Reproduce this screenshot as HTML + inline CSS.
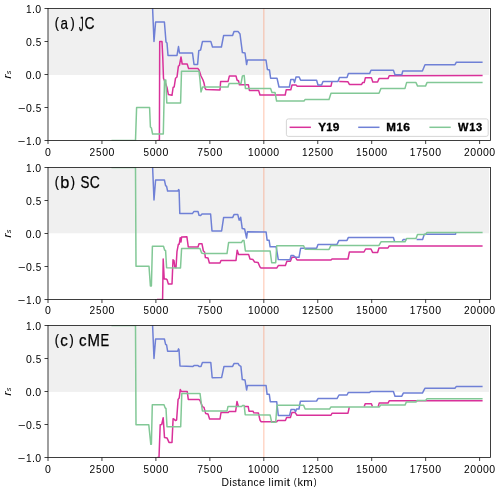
<!DOCTYPE html><html><head><meta charset="utf-8"><style>html,body{margin:0;padding:0;background:#fff;}svg{display:block;will-change:transform;}text{font-family:"Liberation Sans",sans-serif;fill:#000;}</style></head><body>
<svg width="500" height="493" viewBox="0 0 500 493">
<rect width="500" height="493" fill="#fff"/>
<defs><clipPath id="c0"><rect x="48" y="8.5" width="442.5" height="132"/></clipPath></defs>
<rect x="48" y="8.5" width="441" height="66.5" fill="#f0f0f0"/>
<line x1="263.8" y1="8.5" x2="263.8" y2="140.5" stroke="#ff7f50" stroke-opacity="0.32" stroke-width="1.5"/>
<g clip-path="url(#c0)" fill="none" stroke-width="1.5" stroke-linejoin="round" stroke-linecap="butt">
<path d="M157.2 140.5L159.4 140.5L159.7 41.6L162 41.6L162.8 58.4L163.5 78.3L165 82L167 87.5L168.4 94.6L172 95.3L173.1 87.5L174.2 86.8L175.5 78.3L177 77L178.4 66.2L179.4 65.5L181 57L182.2 64L187.2 64L188.6 68.6L198 68.6L199 70L201 76L203 80L204 83L205 88L206 89.6L220 90L220.6 81.6L228 81.6L229.4 75.9L236 75.9L237 80L238.6 81L239.4 84.8L248.4 84.8L249.4 90.4L258.6 90.4L260 95L285.2 95L286.2 89.8L290.8 89.8L292 85L296 85L297.2 86.2L331 86.2L332 81.6M339.2 81.6L348 81.8L349.4 84.4L361.6 84.4L362.6 82.6L364.2 82.6L365.4 77.8L371.4 77.8L372.8 82L377.6 82L379 78.6L388 78.6L389.2 75.7L482.6 75.6" stroke="#d9319a"/>
<path d="M152.5 6L152.6 8.4L154 41.5L155.6 22L164.4 22L166 42L167 43L168 55.4L177 55.4L178.5 46.5L179.5 53L192.5 53L194 64.4L197.6 64.4L198.8 50.6L200.6 50L202.5 41.4L210.8 41.4L212.5 47L221.4 47L223.6 35.6L232.6 35.6L234 31.4L238 31.4L240 34L242.4 52.6L245 53L246.6 64.6L247.4 60L266 60L267.4 69.5L269.5 70L270.6 78.2L277 78.2L279 87L289.4 87L290.8 79.4L293.6 79.4L294.6 82.4L296 77L299.2 77L300.6 80.2L316.6 80.2L318 85L321.6 85L323 81.4L338 81.4L339.6 77.4L347 77.4L348.4 73.6L369.6 73.6L371 70.2L393.4 70.2L395 74.8L401.8 74.8L402.8 71L422.4 71L425 64.7L455 64.7L456.4 62.2L482.6 62.2" stroke="#6f80d6"/>
<path d="M111.5 140.5L135.5 140.5L136.6 107.6L149.6 107.6L150.4 127L151.4 128L152.6 134L163.3 134L164.5 80L165.8 80L166.8 103L180.6 103L181.5 71.3L199 71.3L200 80L201 92L202.6 87L228 87L229 83.6L241 83.6L242.4 76L244.2 75.6L245.4 88.4L270.6 88.4L272 92.4L275 92.4L276.6 101L304 101L305 99.6L329 99.6L331 93.3L379 93.3L381 88.4L405 88.4L406.6 82.6L416 82.6L417.6 86.1L425.5 86.1L427 82.6L482.6 82.6" stroke="#82c896"/>
</g>
<rect x="48" y="8.5" width="442.5" height="132" fill="none" stroke="#101010" stroke-width="0.8"/>
<path d="M48 140.5v3.5 M101.95 140.5v3.5 M155.9 140.5v3.5 M209.85 140.5v3.5 M263.8 140.5v3.5 M317.75 140.5v3.5 M371.7 140.5v3.5 M425.65 140.5v3.5 M479.6 140.5v3.5 M48 8.5h-3.5 M48 41.5h-3.5 M48 74.5h-3.5 M48 107.5h-3.5 M48 140.5h-3.5" stroke="#101010" stroke-width="0.8" fill="none"/>
<g font-size="10.6"><text x="45.07" y="155.8" textLength="5.86" lengthAdjust="spacingAndGlyphs">0</text></g>
<g font-size="10.6"><text x="89.41" y="155.8" textLength="5.65" lengthAdjust="spacingAndGlyphs">2</text><text x="95.93" y="155.8" textLength="5.53" lengthAdjust="spacingAndGlyphs">5</text><text x="102.16" y="155.8" textLength="5.86" lengthAdjust="spacingAndGlyphs">0</text><text x="108.53" y="155.8" textLength="5.86" lengthAdjust="spacingAndGlyphs">0</text></g>
<g font-size="10.6"><text x="143.49" y="155.8" textLength="5.53" lengthAdjust="spacingAndGlyphs">5</text><text x="149.73" y="155.8" textLength="5.86" lengthAdjust="spacingAndGlyphs">0</text><text x="156.09" y="155.8" textLength="5.86" lengthAdjust="spacingAndGlyphs">0</text><text x="162.46" y="155.8" textLength="5.86" lengthAdjust="spacingAndGlyphs">0</text></g>
<g font-size="10.6"><text x="197.34" y="155.8" textLength="5.73" lengthAdjust="spacingAndGlyphs">7</text><text x="203.78" y="155.8" textLength="5.53" lengthAdjust="spacingAndGlyphs">5</text><text x="210.02" y="155.8" textLength="5.86" lengthAdjust="spacingAndGlyphs">0</text><text x="216.38" y="155.8" textLength="5.86" lengthAdjust="spacingAndGlyphs">0</text></g>
<g font-size="10.6"><text x="248.01" y="155.8" textLength="5.6" lengthAdjust="spacingAndGlyphs">1</text><text x="254.29" y="155.8" textLength="5.86" lengthAdjust="spacingAndGlyphs">0</text><text x="260.65" y="155.8" textLength="5.86" lengthAdjust="spacingAndGlyphs">0</text><text x="267.01" y="155.8" textLength="5.86" lengthAdjust="spacingAndGlyphs">0</text><text x="273.37" y="155.8" textLength="5.86" lengthAdjust="spacingAndGlyphs">0</text></g>
<g font-size="10.6"><text x="301.96" y="155.8" textLength="5.6" lengthAdjust="spacingAndGlyphs">1</text><text x="308.21" y="155.8" textLength="5.65" lengthAdjust="spacingAndGlyphs">2</text><text x="314.72" y="155.8" textLength="5.53" lengthAdjust="spacingAndGlyphs">5</text><text x="320.96" y="155.8" textLength="5.86" lengthAdjust="spacingAndGlyphs">0</text><text x="327.32" y="155.8" textLength="5.86" lengthAdjust="spacingAndGlyphs">0</text></g>
<g font-size="10.6"><text x="355.91" y="155.8" textLength="5.6" lengthAdjust="spacingAndGlyphs">1</text><text x="362.31" y="155.8" textLength="5.53" lengthAdjust="spacingAndGlyphs">5</text><text x="368.55" y="155.8" textLength="5.86" lengthAdjust="spacingAndGlyphs">0</text><text x="374.91" y="155.8" textLength="5.86" lengthAdjust="spacingAndGlyphs">0</text><text x="381.27" y="155.8" textLength="5.86" lengthAdjust="spacingAndGlyphs">0</text></g>
<g font-size="10.6"><text x="409.86" y="155.8" textLength="5.6" lengthAdjust="spacingAndGlyphs">1</text><text x="416.18" y="155.8" textLength="5.73" lengthAdjust="spacingAndGlyphs">7</text><text x="422.62" y="155.8" textLength="5.53" lengthAdjust="spacingAndGlyphs">5</text><text x="428.86" y="155.8" textLength="5.86" lengthAdjust="spacingAndGlyphs">0</text><text x="435.22" y="155.8" textLength="5.86" lengthAdjust="spacingAndGlyphs">0</text></g>
<g font-size="10.6"><text x="463.88" y="155.8" textLength="5.65" lengthAdjust="spacingAndGlyphs">2</text><text x="470.27" y="155.8" textLength="5.86" lengthAdjust="spacingAndGlyphs">0</text><text x="476.63" y="155.8" textLength="5.86" lengthAdjust="spacingAndGlyphs">0</text><text x="482.99" y="155.8" textLength="5.86" lengthAdjust="spacingAndGlyphs">0</text><text x="489.36" y="155.8" textLength="5.86" lengthAdjust="spacingAndGlyphs">0</text></g>
<g font-size="10.6"><text x="25.89" y="12.75" textLength="5.6" lengthAdjust="spacingAndGlyphs">1</text><text x="32" y="12.75" textLength="3.01" lengthAdjust="spacingAndGlyphs">.</text><text x="35.35" y="12.75" textLength="5.86" lengthAdjust="spacingAndGlyphs">0</text></g>
<g font-size="10.6"><text x="26.02" y="45.75" textLength="5.86" lengthAdjust="spacingAndGlyphs">0</text><text x="32.21" y="45.75" textLength="3.01" lengthAdjust="spacingAndGlyphs">.</text><text x="35.68" y="45.75" textLength="5.53" lengthAdjust="spacingAndGlyphs">5</text></g>
<g font-size="10.6"><text x="25.81" y="78.75" textLength="5.86" lengthAdjust="spacingAndGlyphs">0</text><text x="32" y="78.75" textLength="3.01" lengthAdjust="spacingAndGlyphs">.</text><text x="35.35" y="78.75" textLength="5.86" lengthAdjust="spacingAndGlyphs">0</text></g>
<g font-size="10.6"><text x="17.82" y="111.75" textLength="7.52" lengthAdjust="spacingAndGlyphs">−</text><text x="26.02" y="111.75" textLength="5.86" lengthAdjust="spacingAndGlyphs">0</text><text x="32.21" y="111.75" textLength="3.01" lengthAdjust="spacingAndGlyphs">.</text><text x="35.68" y="111.75" textLength="5.53" lengthAdjust="spacingAndGlyphs">5</text></g>
<g font-size="10.6"><text x="17.61" y="144.75" textLength="7.52" lengthAdjust="spacingAndGlyphs">−</text><text x="25.89" y="144.75" textLength="5.6" lengthAdjust="spacingAndGlyphs">1</text><text x="32" y="144.75" textLength="3.01" lengthAdjust="spacingAndGlyphs">.</text><text x="35.35" y="144.75" textLength="5.86" lengthAdjust="spacingAndGlyphs">0</text></g>
<g font-size="15.9" stroke="#000" stroke-width="0.25"><text x="54.71" y="0" transform="translate(0,27.61) scale(1,0.902)" textLength="4.22" lengthAdjust="spacingAndGlyphs">(</text><text x="60.39" y="28.6" textLength="7.5" lengthAdjust="spacingAndGlyphs">a</text><text x="70.38" y="0" transform="translate(0,27.61) scale(1,0.902)" textLength="4.22" lengthAdjust="spacingAndGlyphs">)</text><text x="78.96" y="0" transform="translate(0,31.41) scale(1,1.256)" textLength="4.54" lengthAdjust="spacingAndGlyphs">J</text><text x="84.43" y="28.6" textLength="10.06" lengthAdjust="spacingAndGlyphs">C</text></g>
<g transform="translate(10.9,78.7) rotate(-90)" font-style="italic"><text x="0" y="0" font-size="10.6" textLength="4.4" lengthAdjust="spacingAndGlyphs">r</text><text x="4.5" y="0.3" font-size="7.2">s</text></g>
<defs><clipPath id="c1"><rect x="48" y="167.5" width="442.5" height="132"/></clipPath></defs>
<rect x="48" y="167.5" width="441" height="65.8" fill="#f0f0f0"/>
<line x1="263.8" y1="167.5" x2="263.8" y2="299.5" stroke="#ff7f50" stroke-opacity="0.32" stroke-width="1.5"/>
<g clip-path="url(#c1)" fill="none" stroke-width="1.5" stroke-linejoin="round" stroke-linecap="butt">
<path d="M157 299.5L162.6 299.5L163.2 259.1L164.2 279L166 279L167 279.6L168.4 284L172 284L173 259.8L174 260.5L174.8 267L176 267.6L177 251.3L178.4 244.2L179.2 244.2L180.2 237.8L181 242L181.6 237.1L186.9 236.8L188.3 247L198 247L199 243.8L202 243.8L203.4 251L204.6 252L205.4 257.6L208 258L209.4 263L220 263L221 260.4L236 260.4L237.2 250.2L238.6 254.4L248.6 254.4L250 259L253 259.6L254.6 262L258 262.4L260 267L261 268.1L276.7 268.1L278.3 265.6L285.4 265.6L286.9 261.3L290.4 261.3L292 257.3L295.5 257.3L297 260L331 260L332 259L348 259L349.4 252L364 252L365.6 249L371 249L372.6 252.4L377.6 252.4L379 248L388 248L389.2 245.9L482.6 245.9" stroke="#d9319a"/>
<path d="M152.5 165L152.6 167L154 200L155.6 180L164.4 180L165.6 185.6L166.6 186.4L167.6 191.1L178 191.1L178.6 189.6L179.1 190.2L179.8 213.6L192.4 213.6L194 211.4L198 211.4L199 215.2L200.6 215.6L202 214L210.6 214L212 231L221.6 231L223.6 217.6L232.6 217.6L234 214.6L237.8 214.6L239.1 220L239.9 220L240.7 217.3L242.2 228.4L244.6 229L246.6 238L247.4 231.8L266.1 231.9L267.1 240.2L269.1 240.2L270.1 246.8L276.2 246.8L278.3 259.6L290 259.7L291 255.6L293.5 255.6L295.5 257.3L299 257.3L300.6 248.3L316.6 248.3L318 244.4L337 244.4L339 240.4L347 240.4L348.4 237.4L393.4 237.6L394.6 241.4M402.2 241L403.4 239.4L406.8 239.4M416.6 239.4L422.6 239.4L424.3 234.3L455.3 234.3L456.1 233.2" stroke="#6f80d6"/>
<path d="M111.5 167.5L135.5 167.5L136 266.2L149 266.2L150.4 286L151.4 286L152.4 246.3L163.5 246.3L164.6 250L165.6 250.6L166.6 267.8L180.5 268L181.6 248.5L200 248.5L201.6 253L203.4 253.6L227 253.6L228.6 242.6L241.4 242.6L242.6 240.6L244 240.6L245.4 251L270.1 250.9L271.7 262.7L275.7 262.7L276.7 245.8L303.6 245.8L305.1 249.3L329 249.4L331 245.4L379 245.4L381 241.8L405 241.8L406.6 238.6L416 238.6L417.5 234.5L425.3 234.5L427 232.6L482.6 232.6" stroke="#82c896"/>
</g>
<rect x="48" y="167.5" width="442.5" height="132" fill="none" stroke="#101010" stroke-width="0.8"/>
<path d="M48 299.5v3.5 M101.95 299.5v3.5 M155.9 299.5v3.5 M209.85 299.5v3.5 M263.8 299.5v3.5 M317.75 299.5v3.5 M371.7 299.5v3.5 M425.65 299.5v3.5 M479.6 299.5v3.5 M48 167.5h-3.5 M48 200.5h-3.5 M48 233.5h-3.5 M48 266.5h-3.5 M48 299.5h-3.5" stroke="#101010" stroke-width="0.8" fill="none"/>
<g font-size="10.6"><text x="45.07" y="314.1" textLength="5.86" lengthAdjust="spacingAndGlyphs">0</text></g>
<g font-size="10.6"><text x="89.41" y="314.1" textLength="5.65" lengthAdjust="spacingAndGlyphs">2</text><text x="95.93" y="314.1" textLength="5.53" lengthAdjust="spacingAndGlyphs">5</text><text x="102.16" y="314.1" textLength="5.86" lengthAdjust="spacingAndGlyphs">0</text><text x="108.53" y="314.1" textLength="5.86" lengthAdjust="spacingAndGlyphs">0</text></g>
<g font-size="10.6"><text x="143.49" y="314.1" textLength="5.53" lengthAdjust="spacingAndGlyphs">5</text><text x="149.73" y="314.1" textLength="5.86" lengthAdjust="spacingAndGlyphs">0</text><text x="156.09" y="314.1" textLength="5.86" lengthAdjust="spacingAndGlyphs">0</text><text x="162.46" y="314.1" textLength="5.86" lengthAdjust="spacingAndGlyphs">0</text></g>
<g font-size="10.6"><text x="197.34" y="314.1" textLength="5.73" lengthAdjust="spacingAndGlyphs">7</text><text x="203.78" y="314.1" textLength="5.53" lengthAdjust="spacingAndGlyphs">5</text><text x="210.02" y="314.1" textLength="5.86" lengthAdjust="spacingAndGlyphs">0</text><text x="216.38" y="314.1" textLength="5.86" lengthAdjust="spacingAndGlyphs">0</text></g>
<g font-size="10.6"><text x="248.01" y="314.1" textLength="5.6" lengthAdjust="spacingAndGlyphs">1</text><text x="254.29" y="314.1" textLength="5.86" lengthAdjust="spacingAndGlyphs">0</text><text x="260.65" y="314.1" textLength="5.86" lengthAdjust="spacingAndGlyphs">0</text><text x="267.01" y="314.1" textLength="5.86" lengthAdjust="spacingAndGlyphs">0</text><text x="273.37" y="314.1" textLength="5.86" lengthAdjust="spacingAndGlyphs">0</text></g>
<g font-size="10.6"><text x="301.96" y="314.1" textLength="5.6" lengthAdjust="spacingAndGlyphs">1</text><text x="308.21" y="314.1" textLength="5.65" lengthAdjust="spacingAndGlyphs">2</text><text x="314.72" y="314.1" textLength="5.53" lengthAdjust="spacingAndGlyphs">5</text><text x="320.96" y="314.1" textLength="5.86" lengthAdjust="spacingAndGlyphs">0</text><text x="327.32" y="314.1" textLength="5.86" lengthAdjust="spacingAndGlyphs">0</text></g>
<g font-size="10.6"><text x="355.91" y="314.1" textLength="5.6" lengthAdjust="spacingAndGlyphs">1</text><text x="362.31" y="314.1" textLength="5.53" lengthAdjust="spacingAndGlyphs">5</text><text x="368.55" y="314.1" textLength="5.86" lengthAdjust="spacingAndGlyphs">0</text><text x="374.91" y="314.1" textLength="5.86" lengthAdjust="spacingAndGlyphs">0</text><text x="381.27" y="314.1" textLength="5.86" lengthAdjust="spacingAndGlyphs">0</text></g>
<g font-size="10.6"><text x="409.86" y="314.1" textLength="5.6" lengthAdjust="spacingAndGlyphs">1</text><text x="416.18" y="314.1" textLength="5.73" lengthAdjust="spacingAndGlyphs">7</text><text x="422.62" y="314.1" textLength="5.53" lengthAdjust="spacingAndGlyphs">5</text><text x="428.86" y="314.1" textLength="5.86" lengthAdjust="spacingAndGlyphs">0</text><text x="435.22" y="314.1" textLength="5.86" lengthAdjust="spacingAndGlyphs">0</text></g>
<g font-size="10.6"><text x="463.88" y="314.1" textLength="5.65" lengthAdjust="spacingAndGlyphs">2</text><text x="470.27" y="314.1" textLength="5.86" lengthAdjust="spacingAndGlyphs">0</text><text x="476.63" y="314.1" textLength="5.86" lengthAdjust="spacingAndGlyphs">0</text><text x="482.99" y="314.1" textLength="5.86" lengthAdjust="spacingAndGlyphs">0</text><text x="489.36" y="314.1" textLength="5.86" lengthAdjust="spacingAndGlyphs">0</text></g>
<g font-size="10.6"><text x="25.89" y="171.75" textLength="5.6" lengthAdjust="spacingAndGlyphs">1</text><text x="32" y="171.75" textLength="3.01" lengthAdjust="spacingAndGlyphs">.</text><text x="35.35" y="171.75" textLength="5.86" lengthAdjust="spacingAndGlyphs">0</text></g>
<g font-size="10.6"><text x="26.02" y="204.75" textLength="5.86" lengthAdjust="spacingAndGlyphs">0</text><text x="32.21" y="204.75" textLength="3.01" lengthAdjust="spacingAndGlyphs">.</text><text x="35.68" y="204.75" textLength="5.53" lengthAdjust="spacingAndGlyphs">5</text></g>
<g font-size="10.6"><text x="25.81" y="237.75" textLength="5.86" lengthAdjust="spacingAndGlyphs">0</text><text x="32" y="237.75" textLength="3.01" lengthAdjust="spacingAndGlyphs">.</text><text x="35.35" y="237.75" textLength="5.86" lengthAdjust="spacingAndGlyphs">0</text></g>
<g font-size="10.6"><text x="17.82" y="270.75" textLength="7.52" lengthAdjust="spacingAndGlyphs">−</text><text x="26.02" y="270.75" textLength="5.86" lengthAdjust="spacingAndGlyphs">0</text><text x="32.21" y="270.75" textLength="3.01" lengthAdjust="spacingAndGlyphs">.</text><text x="35.68" y="270.75" textLength="5.53" lengthAdjust="spacingAndGlyphs">5</text></g>
<g font-size="10.6"><text x="17.61" y="303.75" textLength="7.52" lengthAdjust="spacingAndGlyphs">−</text><text x="25.89" y="303.75" textLength="5.6" lengthAdjust="spacingAndGlyphs">1</text><text x="32" y="303.75" textLength="3.01" lengthAdjust="spacingAndGlyphs">.</text><text x="35.35" y="303.75" textLength="5.86" lengthAdjust="spacingAndGlyphs">0</text></g>
<g font-size="15.9" stroke="#000" stroke-width="0.25"><text x="54.71" y="0" transform="translate(0,186.61) scale(1,0.902)" textLength="4.22" lengthAdjust="spacingAndGlyphs">(</text><text x="60.37" y="187.6" textLength="9.08" lengthAdjust="spacingAndGlyphs">b</text><text x="70.71" y="0" transform="translate(0,186.61) scale(1,0.902)" textLength="4.22" lengthAdjust="spacingAndGlyphs">)</text><text x="80.59" y="187.6" textLength="8.92" lengthAdjust="spacingAndGlyphs">S</text><text x="89.86" y="187.6" textLength="10.06" lengthAdjust="spacingAndGlyphs">C</text></g>
<g transform="translate(10.9,237.7) rotate(-90)" font-style="italic"><text x="0" y="0" font-size="10.6" textLength="4.4" lengthAdjust="spacingAndGlyphs">r</text><text x="4.5" y="0.3" font-size="7.2">s</text></g>
<defs><clipPath id="c2"><rect x="48" y="325.5" width="442.5" height="132"/></clipPath></defs>
<rect x="48" y="325.5" width="441" height="66.4" fill="#f0f0f0"/>
<line x1="263.8" y1="325.5" x2="263.8" y2="457.5" stroke="#ff7f50" stroke-opacity="0.32" stroke-width="1.5"/>
<g clip-path="url(#c2)" fill="none" stroke-width="1.5" stroke-linejoin="round" stroke-linecap="butt">
<path d="M157.2 457.5L159 457.5L160.2 424.8L161.7 424.5L163.2 417.7L164.5 437.4L167 437.9L169 442.4L172 442.4L173.1 418.7L174.4 419.4L175.4 420.6L176.6 420L178.1 399.4L179.2 398L180.3 389.6L181.2 391.4L187.2 391.4L188.3 399.4L199 399.4L200 400.5L202.4 406.6L204 407.4L205.6 413.4L208 414L209.6 419L220 419L221 412.6L228.2 412.6L229 411.6L235.6 411.6L237 401.4L238.4 406.4M244.6 406.4L248.2 406.4L249 411.2L253 411.2L253.8 412.8L258.4 413L260 420L261 421.7L276.7 421.7L277.7 420.5L285.4 420.5L286.6 417.5L290.4 417.5L292 412.4L295 412.4L297 415.3L331 415.3L332 413.2L348 413.2L349.3 407.2M364.2 406.6L365.2 403.8L371.4 403.8L372.4 406.6M378.2 406.6L379.2 403.1L388 403.1L389.2 400.8L482.6 400.8" stroke="#d9319a"/>
<path d="M152.5 323.6L152.6 325.6L154 358.4L155.6 339L164.4 339L165.6 344.4L166.6 345L167.6 351.2L177.6 351.2L178.5 348.9L179 349.6L180 366L193 366.4L194 365.6L198 365.6L199 366.4L201 366.4L202.4 362.6L210.8 362.6L212.2 377.8L221.6 377.6L224 366.4L232.6 366.4L234 363.6L238.2 363.6L239.2 365.3L240.9 366.3L242.3 379.6L245 380L246.6 390L247.4 385.6L266.1 385.5L267.1 394.3L269.3 394.3L270.3 401.7L276.7 401.7L278.3 415.4L289.6 415.4L291 409.6L294.5 409.6L295.5 411.6L296.5 409.1L299 409L300.4 401.2L316.6 401L318 398.6L337 398.6L339 395L347 395L348.4 392.4L369.6 392.4L371 391.4L393.4 391.4L395 396.2L401.8 396.2L403.3 393.1L422.4 393.1L424.9 388.3L454.9 388.3L456.4 386.4L482.6 386.4" stroke="#6f80d6"/>
<path d="M111.5 325.5L135.5 325.5L136 424.8L148.8 424.8L150.8 444.3L151.4 444.3L152.3 404.8L164 404.8L165 407.6L166 408.6L167 426.8L180.7 426.8L181.8 393.4L200 393.4L201 401L202.4 411L227 411.1L228 406.4L241.8 406.4L242.4 405.6L244.2 405.6L245.2 414.7L270.1 414.9L271.7 422.3L275.7 422.3L277 405.3L303.6 405.3L305.1 409L329.6 409L331 406.9L379.4 406.9L380.6 405.1L405 405.1L406.4 401.9L416 401.9L417.5 400.4L425.5 400.4L427 398.8L482.6 398.8" stroke="#82c896"/>
</g>
<rect x="48" y="325.5" width="442.5" height="132" fill="none" stroke="#101010" stroke-width="0.8"/>
<path d="M48 457.5v3.5 M101.95 457.5v3.5 M155.9 457.5v3.5 M209.85 457.5v3.5 M263.8 457.5v3.5 M317.75 457.5v3.5 M371.7 457.5v3.5 M425.65 457.5v3.5 M479.6 457.5v3.5 M48 325.5h-3.5 M48 358.5h-3.5 M48 391.5h-3.5 M48 424.5h-3.5 M48 457.5h-3.5" stroke="#101010" stroke-width="0.8" fill="none"/>
<g font-size="10.6"><text x="45.07" y="472.8" textLength="5.86" lengthAdjust="spacingAndGlyphs">0</text></g>
<g font-size="10.6"><text x="89.41" y="472.8" textLength="5.65" lengthAdjust="spacingAndGlyphs">2</text><text x="95.93" y="472.8" textLength="5.53" lengthAdjust="spacingAndGlyphs">5</text><text x="102.16" y="472.8" textLength="5.86" lengthAdjust="spacingAndGlyphs">0</text><text x="108.53" y="472.8" textLength="5.86" lengthAdjust="spacingAndGlyphs">0</text></g>
<g font-size="10.6"><text x="143.49" y="472.8" textLength="5.53" lengthAdjust="spacingAndGlyphs">5</text><text x="149.73" y="472.8" textLength="5.86" lengthAdjust="spacingAndGlyphs">0</text><text x="156.09" y="472.8" textLength="5.86" lengthAdjust="spacingAndGlyphs">0</text><text x="162.46" y="472.8" textLength="5.86" lengthAdjust="spacingAndGlyphs">0</text></g>
<g font-size="10.6"><text x="197.34" y="472.8" textLength="5.73" lengthAdjust="spacingAndGlyphs">7</text><text x="203.78" y="472.8" textLength="5.53" lengthAdjust="spacingAndGlyphs">5</text><text x="210.02" y="472.8" textLength="5.86" lengthAdjust="spacingAndGlyphs">0</text><text x="216.38" y="472.8" textLength="5.86" lengthAdjust="spacingAndGlyphs">0</text></g>
<g font-size="10.6"><text x="248.01" y="472.8" textLength="5.6" lengthAdjust="spacingAndGlyphs">1</text><text x="254.29" y="472.8" textLength="5.86" lengthAdjust="spacingAndGlyphs">0</text><text x="260.65" y="472.8" textLength="5.86" lengthAdjust="spacingAndGlyphs">0</text><text x="267.01" y="472.8" textLength="5.86" lengthAdjust="spacingAndGlyphs">0</text><text x="273.37" y="472.8" textLength="5.86" lengthAdjust="spacingAndGlyphs">0</text></g>
<g font-size="10.6"><text x="301.96" y="472.8" textLength="5.6" lengthAdjust="spacingAndGlyphs">1</text><text x="308.21" y="472.8" textLength="5.65" lengthAdjust="spacingAndGlyphs">2</text><text x="314.72" y="472.8" textLength="5.53" lengthAdjust="spacingAndGlyphs">5</text><text x="320.96" y="472.8" textLength="5.86" lengthAdjust="spacingAndGlyphs">0</text><text x="327.32" y="472.8" textLength="5.86" lengthAdjust="spacingAndGlyphs">0</text></g>
<g font-size="10.6"><text x="355.91" y="472.8" textLength="5.6" lengthAdjust="spacingAndGlyphs">1</text><text x="362.31" y="472.8" textLength="5.53" lengthAdjust="spacingAndGlyphs">5</text><text x="368.55" y="472.8" textLength="5.86" lengthAdjust="spacingAndGlyphs">0</text><text x="374.91" y="472.8" textLength="5.86" lengthAdjust="spacingAndGlyphs">0</text><text x="381.27" y="472.8" textLength="5.86" lengthAdjust="spacingAndGlyphs">0</text></g>
<g font-size="10.6"><text x="409.86" y="472.8" textLength="5.6" lengthAdjust="spacingAndGlyphs">1</text><text x="416.18" y="472.8" textLength="5.73" lengthAdjust="spacingAndGlyphs">7</text><text x="422.62" y="472.8" textLength="5.53" lengthAdjust="spacingAndGlyphs">5</text><text x="428.86" y="472.8" textLength="5.86" lengthAdjust="spacingAndGlyphs">0</text><text x="435.22" y="472.8" textLength="5.86" lengthAdjust="spacingAndGlyphs">0</text></g>
<g font-size="10.6"><text x="463.88" y="472.8" textLength="5.65" lengthAdjust="spacingAndGlyphs">2</text><text x="470.27" y="472.8" textLength="5.86" lengthAdjust="spacingAndGlyphs">0</text><text x="476.63" y="472.8" textLength="5.86" lengthAdjust="spacingAndGlyphs">0</text><text x="482.99" y="472.8" textLength="5.86" lengthAdjust="spacingAndGlyphs">0</text><text x="489.36" y="472.8" textLength="5.86" lengthAdjust="spacingAndGlyphs">0</text></g>
<g font-size="10.6"><text x="25.89" y="329.75" textLength="5.6" lengthAdjust="spacingAndGlyphs">1</text><text x="32" y="329.75" textLength="3.01" lengthAdjust="spacingAndGlyphs">.</text><text x="35.35" y="329.75" textLength="5.86" lengthAdjust="spacingAndGlyphs">0</text></g>
<g font-size="10.6"><text x="26.02" y="362.75" textLength="5.86" lengthAdjust="spacingAndGlyphs">0</text><text x="32.21" y="362.75" textLength="3.01" lengthAdjust="spacingAndGlyphs">.</text><text x="35.68" y="362.75" textLength="5.53" lengthAdjust="spacingAndGlyphs">5</text></g>
<g font-size="10.6"><text x="25.81" y="395.75" textLength="5.86" lengthAdjust="spacingAndGlyphs">0</text><text x="32" y="395.75" textLength="3.01" lengthAdjust="spacingAndGlyphs">.</text><text x="35.35" y="395.75" textLength="5.86" lengthAdjust="spacingAndGlyphs">0</text></g>
<g font-size="10.6"><text x="17.82" y="428.75" textLength="7.52" lengthAdjust="spacingAndGlyphs">−</text><text x="26.02" y="428.75" textLength="5.86" lengthAdjust="spacingAndGlyphs">0</text><text x="32.21" y="428.75" textLength="3.01" lengthAdjust="spacingAndGlyphs">.</text><text x="35.68" y="428.75" textLength="5.53" lengthAdjust="spacingAndGlyphs">5</text></g>
<g font-size="10.6"><text x="17.61" y="461.75" textLength="7.52" lengthAdjust="spacingAndGlyphs">−</text><text x="25.89" y="461.75" textLength="5.6" lengthAdjust="spacingAndGlyphs">1</text><text x="32" y="461.75" textLength="3.01" lengthAdjust="spacingAndGlyphs">.</text><text x="35.35" y="461.75" textLength="5.86" lengthAdjust="spacingAndGlyphs">0</text></g>
<g font-size="15.9" stroke="#000" stroke-width="0.25"><text x="54.71" y="0" transform="translate(0,344.61) scale(1,0.902)" textLength="4.22" lengthAdjust="spacingAndGlyphs">(</text><text x="60.25" y="345.6" textLength="7.53" lengthAdjust="spacingAndGlyphs">c</text><text x="69.44" y="0" transform="translate(0,344.61) scale(1,0.902)" textLength="4.22" lengthAdjust="spacingAndGlyphs">)</text><text x="79.12" y="345.6" textLength="7.53" lengthAdjust="spacingAndGlyphs">c</text><text x="87.42" y="345.6" textLength="12.46" lengthAdjust="spacingAndGlyphs">M</text><text x="100.52" y="345.6" textLength="8.67" lengthAdjust="spacingAndGlyphs">E</text></g>
<g transform="translate(10.9,395.7) rotate(-90)" font-style="italic"><text x="0" y="0" font-size="10.6" textLength="4.4" lengthAdjust="spacingAndGlyphs">r</text><text x="4.5" y="0.3" font-size="7.2">s</text></g>
<rect x="286.4" y="118.9" width="201.8" height="17.5" rx="2" ry="2" fill="#fff" fill-opacity="0.8" stroke="#cccccc" stroke-width="0.8"/>
<line x1="289.6" y1="127.3" x2="310.9" y2="127.3" stroke="#d9319a" stroke-width="1.5"/>
<g font-size="10.2" font-weight="bold" stroke="#000" stroke-width="0.3"><text x="318.2" y="130.9" textLength="7.83" lengthAdjust="spacingAndGlyphs">Y</text><text x="326.17" y="130.9" textLength="6.15" lengthAdjust="spacingAndGlyphs">1</text><text x="332.8" y="130.9" textLength="6.66" lengthAdjust="spacingAndGlyphs">9</text></g>
<line x1="358.2" y1="127.3" x2="379.5" y2="127.3" stroke="#6f80d6" stroke-width="1.5"/>
<g font-size="10.2" font-weight="bold" stroke="#000" stroke-width="0.3"><text x="386.32" y="130.9" textLength="9.66" lengthAdjust="spacingAndGlyphs">M</text><text x="396.57" y="130.9" textLength="6.15" lengthAdjust="spacingAndGlyphs">1</text><text x="403.27" y="130.9" textLength="6.67" lengthAdjust="spacingAndGlyphs">6</text></g>
<line x1="429.4" y1="127.3" x2="450.7" y2="127.3" stroke="#82c896" stroke-width="1.5"/>
<g font-size="10.2" font-weight="bold" stroke="#000" stroke-width="0.3"><text x="457.99" y="130.9" textLength="10.44" lengthAdjust="spacingAndGlyphs">W</text><text x="469.16" y="130.9" textLength="6.15" lengthAdjust="spacingAndGlyphs">1</text><text x="476.11" y="130.9" textLength="6.15" lengthAdjust="spacingAndGlyphs">3</text></g>
<g font-size="10.6"><text x="221.55" y="486" textLength="7.47" lengthAdjust="spacingAndGlyphs">D</text><text x="229.38" y="486" textLength="2.27" lengthAdjust="spacingAndGlyphs">i</text><text x="232.17" y="486" textLength="4.79" lengthAdjust="spacingAndGlyphs">s</text><text x="237.17" y="486" textLength="3.71" lengthAdjust="spacingAndGlyphs">t</text><text x="241.25" y="486" textLength="5" lengthAdjust="spacingAndGlyphs">a</text><text x="247.35" y="486" textLength="6" lengthAdjust="spacingAndGlyphs">n</text><text x="253.62" y="486" textLength="5.02" lengthAdjust="spacingAndGlyphs">c</text><text x="259.08" y="486" textLength="6.01" lengthAdjust="spacingAndGlyphs">e</text><text x="268.58" y="486" textLength="2.27" lengthAdjust="spacingAndGlyphs">l</text><text x="271.36" y="486" textLength="2.27" lengthAdjust="spacingAndGlyphs">i</text><text x="274.03" y="486" textLength="9.49" lengthAdjust="spacingAndGlyphs">m</text><text x="283.88" y="486" textLength="2.27" lengthAdjust="spacingAndGlyphs">i</text><text x="286.47" y="486" textLength="3.71" lengthAdjust="spacingAndGlyphs">t</text><text x="293.83" y="0" transform="translate(0,485.34) scale(1,0.902)" textLength="2.81" lengthAdjust="spacingAndGlyphs">(</text><text x="297.55" y="486" textLength="5.59" lengthAdjust="spacingAndGlyphs">k</text><text x="303.34" y="486" textLength="9.49" lengthAdjust="spacingAndGlyphs">m</text><text x="313.68" y="0" transform="translate(0,485.34) scale(1,0.902)" textLength="2.81" lengthAdjust="spacingAndGlyphs">)</text></g>
</svg></body></html>
